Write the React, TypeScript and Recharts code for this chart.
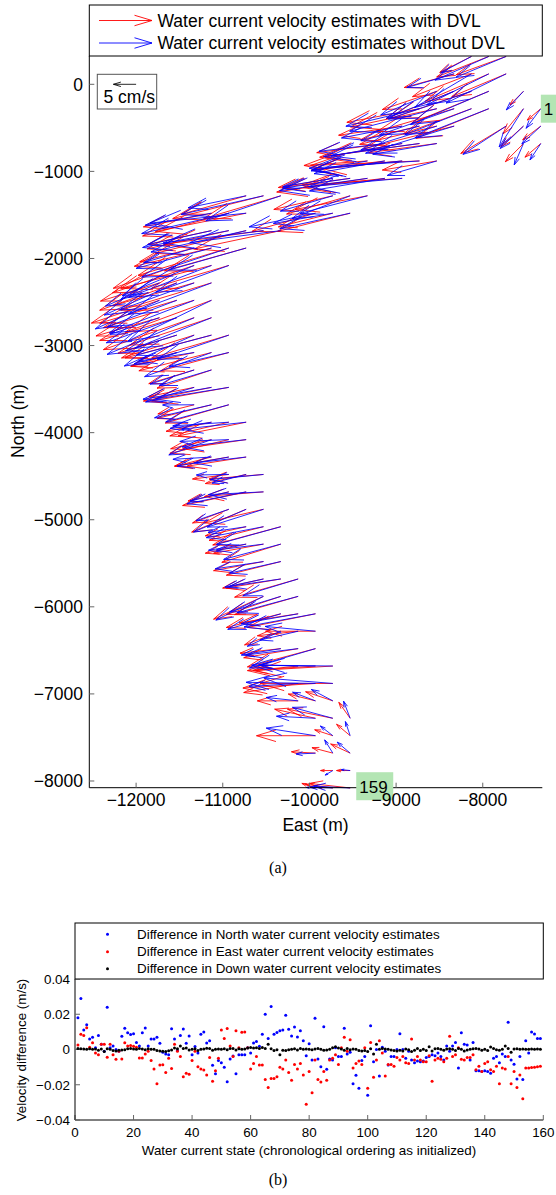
import React from "react";
import { ScatterChart, Scatter, XAxis, YAxis, ReferenceLine, ReferenceDot } from "recharts";

const SANS = "'Liberation Sans', Arial, Helvetica, sans-serif";
const SERIF = "'Liberation Serif', 'Times New Roman', serif";
const QUIVER_SCALE = 5236; // metres of map drawn per m/s of current

// (a) quiver: water current state positions (m) and velocity with DVL (m/s)
const stateEast = [
  -7330, -7530, -7530, -7730, -7730, -7930, -8130, -7930, -7930, -7930,
  -8130, -8130, -8130, -8330, -8330, -8330, -8530, -8530, -8730, -7330,
  -7530, -7730, -8330, -8530, -8730, -8930, -7330, -7530, -8530, -8730,
  -8930, -9130, -8530, -8730, -8930, -9130, -9330, -8930, -9130, -9330,
  -9530, -9730, -9330, -9530, -9730, -10330, -10530, -10730, -9530, -9730,
  -9930, -10730, -10930, -11130, -10330, -10530, -10730, -10930, -11130, -10730,
  -10930, -11130, -11330, -10930, -11130, -11330, -11530, -11130, -11330, -11530,
  -11730, -11130, -11330, -11530, -11730, -11130, -11330, -11530, -11730, -10930,
  -11130, -11330, -11530, -10930, -11130, -11330, -11530, -11130, -11330, -10930,
  -11130, -11330, -10930, -11130, -11330, -10730, -10930, -11130, -10730, -10930,
  -11130, -10730, -10930, -11130, -10530, -10730, -10930, -10530, -10730, -10930,
  -10530, -10730, -10930, -10330, -10530, -10730, -10330, -10530, -10730, -10330,
  -10530, -10130, -10330, -10530, -10130, -10330, -10530, -9930, -10130, -10330,
  -9930, -10130, -10330, -9930, -10130, -10330, -9730, -9930, -10130, -9730,
  -9930, -10130, -9730, -9930, -10130, -9530, -9730, -9930, -9530, -9730,
  -9930, -9530, -9730, -9930, -9530, -9730, -9930, -9730, -9530,
];
const stateNorth = [
  -280, -280, -80, 120, 320, 320, 320, 120, -80, -280,
  120, -80, -280, 120, -80, -280, -80, -280, -280, -480,
  -480, -480, -480, -480, -480, -480, -680, -680, -680, -680,
  -680, -680, -880, -880, -880, -880, -880, -1080, -1080, -1080,
  -1080, -1080, -1280, -1280, -1280, -1280, -1280, -1280, -1480, -1480,
  -1480, -1480, -1480, -1480, -1680, -1680, -1680, -1680, -1680, -1880,
  -1880, -1880, -1880, -2080, -2080, -2080, -2080, -2280, -2280, -2280,
  -2280, -2480, -2480, -2480, -2480, -2680, -2680, -2680, -2680, -2880,
  -2880, -2880, -2880, -3080, -3080, -3080, -3080, -3280, -3280, -3480,
  -3480, -3480, -3680, -3680, -3680, -3880, -3880, -3880, -4080, -4080,
  -4080, -4280, -4280, -4280, -4480, -4480, -4480, -4680, -4680, -4680,
  -4880, -4880, -4880, -5080, -5080, -5080, -5280, -5280, -5280, -5480,
  -5480, -5680, -5680, -5680, -5880, -5880, -5880, -6080, -6080, -6080,
  -6280, -6280, -6280, -6480, -6480, -6480, -6680, -6680, -6680, -6880,
  -6880, -6880, -7080, -7080, -7080, -7280, -7280, -7280, -7480, -7480,
  -7480, -7680, -7680, -7680, -7880, -7880, -8080, -8080, -8080,
];
const redU = [
  -0.03, -0.045, -0.03, -0.12, -0.11, -0.115, -0.07, -0.14, -0.17, -0.16,
  -0.13, -0.18, -0.15, -0.11, -0.15, -0.17, -0.12, -0.19, -0.16, -0.04,
  -0.05, -0.1, -0.2, -0.17, -0.13, -0.14, -0.035, -0.04, -0.15, -0.22,
  -0.17, -0.15, -0.12, -0.24, -0.2, -0.16, -0.14, -0.22, -0.18, -0.2,
  -0.15, -0.12, -0.16, -0.14, -0.13, -0.17, -0.2, -0.14, -0.16, -0.12,
  -0.14, -0.2, -0.19, -0.15, -0.19, -0.22, -0.2, -0.18, -0.14, -0.18,
  -0.2, -0.17, -0.12, -0.17, -0.2, -0.18, -0.14, -0.2, -0.18, -0.17,
  -0.13, -0.19, -0.2, -0.17, -0.15, -0.18, -0.2, -0.17, -0.14, -0.17,
  -0.19, -0.16, -0.13, -0.15, -0.16, -0.14, -0.1, -0.12, -0.1, -0.17,
  -0.15, -0.1, -0.14, -0.12, -0.08, -0.15, -0.13, -0.1, -0.14, -0.13,
  -0.09, -0.13, -0.12, -0.08, -0.12, -0.09, -0.08, -0.13, -0.14, -0.09,
  -0.13, -0.12, -0.08, -0.15, -0.12, -0.09, -0.13, -0.11, -0.09, -0.12,
  -0.11, -0.14, -0.12, -0.09, -0.14, -0.12, -0.11, -0.15, -0.13, -0.12,
  -0.11, -0.09, -0.08, -0.15, -0.12, -0.09, -0.17, -0.15, -0.1, -0.16,
  -0.16, -0.12, -0.06, -0.06, -0.09, -0.025, -0.1, -0.09, -0.03, -0.04,
  -0.13, -0.043, -0.046, -0.053, -0.03, -0.027, -0.03, -0.06, -0.09,
];
const redV = [
  -0.025, -0.055, -0.03, -0.05, -0.04, -0.045, -0.035, -0.06, -0.07, -0.065,
  -0.05, -0.06, -0.055, -0.03, -0.06, -0.05, -0.04, -0.04, -0.03, -0.03,
  -0.045, -0.06, -0.05, -0.04, -0.03, -0.02, -0.03, -0.04, -0.02, -0.03,
  -0.03, -0.02, -0.02, -0.01, -0.02, -0.02, -0.01, -0.015, -0.02, -0.03,
  -0.02, -0.02, -0.03, -0.04, -0.03, -0.05, -0.05, -0.04, -0.04, -0.03,
  -0.04, -0.04, -0.05, -0.03, -0.04, -0.03, -0.05, -0.04, -0.03, -0.05,
  -0.06, -0.04, -0.03, -0.05, -0.05, -0.06, -0.05, -0.06, -0.05, -0.06,
  -0.04, -0.07, -0.06, -0.05, -0.05, -0.06, -0.07, -0.05, -0.04, -0.05,
  -0.05, -0.05, -0.04, -0.04, -0.04, -0.03, -0.03, -0.04, -0.03, -0.03,
  -0.03, -0.02, -0.04, -0.03, -0.02, -0.03, -0.03, -0.02, -0.02, -0.03,
  -0.02, -0.02, -0.02, -0.02, -0.01, -0.02, -0.01, -0.01, -0.03, -0.02,
  -0.03, -0.05, -0.03, -0.04, -0.03, -0.02, -0.04, -0.02, -0.02, -0.03,
  -0.02, -0.04, -0.02, -0.02, -0.04, -0.04, -0.05, -0.03, -0.02, -0.03,
  0.0, -0.01, -0.03, -0.04, -0.02, -0.01, -0.01, -0.01, -0.01, 0.0,
  -0.01, -0.02, 0.02, 0.015, 0.0, 0.035, 0.02, 0.02, 0.025, 0.013,
  0.0, 0.02, 0.012, 0.003, 0.0, 0.0, 0.01, 0.008, 0.01,
];

// (b) difference (with DVL minus without DVL), m/s, for states 1..159
const diffNorth = [
  0.018, 0.029, 0.011, 0.014, 0.006, 0.007, 0.001, 0.008, 0.003, -0.001,
  0.024, 0.001, 0.002, 0.0, -0.001, 0.0075, 0.012, 0.0095, 0.0085, 0.009,
  0.004, 0.002, 0.0095, 0.0122, 0.002, 0.006, 0.006, 0.007, 0.0035, -0.0015,
  -0.0025, -0.003, 0.0118, 0.006, -0.0005, 0.008, 0.0117, 0.0035, 0.0077, -0.003,
  0.0017, -0.002, 0.0087, 0.01, 0.0037, 0.005, -0.009, -0.0137, -0.0063, -0.0075,
  -0.01, -0.0183, -0.0054, -0.0037, -0.0137, -0.003, -0.003, -0.003, 0.001, -0.002,
  0.0037, 0.0046, 0.0019, 0.0087, 0.02, 0.0063, 0.0244, 0.0087, 0.0096, 0.0106,
  0.011, 0.0194, 0.0115, 0.0077, 0.0127, 0.0071, 0.0106, 0.005, -0.0035, 0.0033,
  -0.006, 0.0177, -0.0054, -0.0098, 0.0129, -0.0112, -0.0054, -0.006, 0.001, -0.004,
  -0.004, 0.0121, -0.0025, -0.0015, -0.0195, -0.0146, -0.022, -0.0063, -0.004, -0.026,
  0.0135, -0.007, 0.0, -0.015, 0.0013, -0.001, -0.0088, -0.004, -0.004, 0.0,
  0.009, 0.0, -0.005, -0.001, -0.006, -0.0075, -0.0065, -0.007, -0.0065, -0.0045,
  -0.004, -0.003, -0.0035, -0.002, -0.004, -0.006, 0.002, -0.001, 0.002, 0.004,
  -0.0105, 0.0095, 0.003, 0.0025, -0.006, 0.004, -0.012, -0.012, -0.0125, -0.012,
  -0.0125, -0.0135, -0.005, -0.004, -0.0075, -0.0025, -0.004, 0.0155, -0.006, -0.0083,
  -0.0167, -0.004, -0.017, 0.005, -0.002, 0.01, 0.0088, 0.0062, 0.0062,
];
const diffEast = [
  0.0025, 0.0087, 0.008, 0.0123, 0.0013, 0.0038, -0.002, -0.003, 0.003, 0.003,
  -0.0044, 0.003, -0.003, -0.0056, -0.001, -0.0054, 0.0038, 0.002, 0.0022, 0.0019,
  0.0013, -0.0048, -0.0048, -0.0025, -0.001, -0.0063, -0.011, -0.0195, -0.0088, -0.0087,
  -0.013, -0.005, -0.0108, 0.003, -0.001, -0.004, -0.0155, -0.0135, -0.014, -0.0063,
  -0.001, -0.0098, -0.011, -0.0117, -0.0145, -0.0045, -0.018, -0.012, -0.005, 0.011,
  0.0062, 0.0119, 0.002, -0.004, 0.0106, 0.001, 0.0098, 0.01, 0.001, -0.011,
  -0.008, -0.004, -0.0088, -0.0088, -0.017, -0.0215, -0.0165, -0.0165, -0.0155, -0.01,
  -0.011, -0.006, -0.013, -0.0175, -0.0085, -0.011, -0.008, -0.0145, -0.031, -0.0125,
  -0.0245, -0.006, -0.017, -0.0185, -0.0125, -0.0175, -0.006, -0.005, -0.003, -0.0085,
  0.001, 0.007, -0.001, 0.0055, -0.0105, -0.008, -0.0065, -0.0085, 0.001, -0.022,
  0.004, -0.0157, -0.006, 0.005, -0.002, -0.015, -0.0085, -0.0085, -0.0095, -0.0045,
  -0.006, -0.004, -0.0075, -0.008, 0.006, -0.006, -0.004, -0.006, -0.007, -0.007,
  -0.0035, -0.018, -0.006, -0.005, -0.0055, -0.007, -0.005, 0.0075, -0.004, -0.003,
  0.001, -0.0055, -0.006, -0.0045, -0.0045, -0.003, -0.0115, -0.0095, -0.0125, -0.008,
  -0.007, -0.0115, -0.0125, -0.0095, -0.0195, -0.0105, -0.011, -0.004, -0.0195, -0.0125,
  -0.0215, -0.0145, -0.028, -0.0105, -0.0105, -0.0102, -0.01, -0.0098, -0.0095,
];
const diffDown = [
  0.0005, 0.0004, 0.0003, 0.0002, 0.0004, 0.0002, 0.0003, -0.0004, 0.0003, -0.0012,
  0.0004, 0.0002, -0.0006, -0.0008, -0.0004, -0.0003, -0.0001, 0.0004, 0.0005, 0.0003,
  0.0002, 0.0006, 0.0003, -0.0002, 0.0004, 0.0002, 0.0001, -0.0006, -0.0008, -0.001,
  -0.0012, -0.0007, -0.0003, 0.0008, 0.0004, 0.002, 0.0006, 0.0008, -0.0003, 0.0002,
  0.0004, -0.0006, 0.0002, 0.0003, 0.0007, 0.0005, -0.0004, 0.0001, 0.0003, 0.0002,
  0.0004, -0.0002, 0.0006, 0.0005, -0.0003, 0.0004, 0.0002, 0.0003, 0.0009, 0.0012,
  0.0008, 0.001, 0.0005, 0.0012, 0.0006, 0.003, 0.0004, -0.0006, -0.0002, -0.003,
  -0.0004, -0.0006, -0.0002, 0.0002, 0.0004, -0.0003, 0.0005, 0.0002, 0.0003, 0.0001,
  -0.0002, 0.0003, 0.0005, 0.0002, -0.0004, -0.0003, 0.0002, 0.001, 0.0015, 0.0008,
  0.0003, -0.0004, 0.0006, -0.0002, 0.0003, 0.0001, -0.0005, -0.0008, -0.0006, -0.0012,
  0.0004, -0.0025, 0.003, 0.0002, 0.0005, 0.0003, 0.0002, -0.0003, -0.0006, -0.0009,
  -0.0004, -0.0008, 0.0003, -0.0002, -0.0012, -0.0004, 0.0006, -0.0006, 0.0002, -0.0005,
  0.0015, -0.0008, 0.0004, 0.0006, 0.0002, -0.0004, 0.0003, 0.0004, 0.0002, -0.0006,
  0.0005, 0.0002, -0.0008, -0.0003, 0.0002, 0.0004, 0.0005, 0.0003, -0.0004, 0.0002,
  -0.0006, 0.0014, 0.0005, -0.0002, -0.0004, 0.0002, 0.002, 0.0006, -0.0015, 0.0003,
  0.0004, 0.0002, 0.0003, 0.0001, 0.0002, 0.0003, 0.0002, 0.0003, 0.0002,
];

const mapXTicks = [-12000, -11000, -10000, -9000, -8000];
const mapYTicks = [-8000, -7000, -6000, -5000, -4000, -3000, -2000, -1000, 0];
const diffXTicks = [0, 20, 40, 60, 80, 100, 120, 140, 160];
const diffYTicks = [-0.04, -0.02, 0, 0.02, 0.04];

// reference arrow (5 cm/s) and state labels
const refArrow = { east: -12000, north: 0, u: -0.05, v: 0 };
const stateLabels = [
  { text: "1", east: -7330, north: -280, w: 17 },
  { text: "159", east: -9460, north: -8060, w: 37 },
];

const minus = (v: number) => (v < 0 ? "\u2212" + String(Math.abs(v)) : String(v));

function arrowPath(x1: number, y1: number, x2: number, y2: number) {
  const dx = x2 - x1;
  const dy = y2 - y1;
  const a = 0.33;
  const b = 0.3;
  const hx1 = x2 - a * (dx + b * dy);
  const hy1 = y2 - a * (dy - b * dx);
  const hx2 = x2 - a * (dx - b * dy);
  const hy2 = y2 - a * (dy + b * dx);
  return `M${x1},${y1}L${x2},${y2}M${hx1},${hy1}L${x2},${y2}L${hx2},${hy2}`;
}

const arrowShape = (color: string) => (p: any) => {
  const { x1, y1, x2, y2 } = p;
  if (![x1, y1, x2, y2].every((n) => Number.isFinite(n))) return <g />;
  return <path d={arrowPath(x1, y1, x2, y2)} stroke={color} strokeWidth={0.85} fill="none" />;
};
const redArrow = arrowShape("#ff0000");
const blueArrow = arrowShape("#0000ff");
const blackArrow = arrowShape("#000000");

const dot = (color: string) => (p: any) => <circle cx={p.cx} cy={p.cy} r={1.5} fill={color} />;

export default function App() {
  const arrows = stateEast.map((e, k) => ({
    e,
    n: stateNorth[k],
    ru: redU[k],
    rv: redV[k],
    bu: redU[k] - diffEast[k],
    bv: redV[k] - diffNorth[k],
  }));
  const tails = arrows.map((a) => ({ x: a.e, y: a.n }));
  const northPts = diffNorth.map((v, k) => ({ x: k + 1, y: v }));
  const eastPts = diffEast.map((v, k) => ({ x: k + 1, y: v }));
  const downPts = diffDown.map((v, k) => ({ x: k + 1, y: v }));

  const tickStyle = { fontFamily: SANS, fontSize: 17.5, fill: "#000" };
  const smallTick = { fontFamily: SANS, fontSize: 13.4, fill: "#000" };

  return (
    <div style={{ position: "absolute", left: 0, top: 0, width: 556, height: 1195, background: "#fff", overflow: "hidden" }}>
      {/* (a) quiver map */}
      <div style={{ position: "absolute", left: 0, top: 0 }}>
        <ScatterChart width={556} height={850} margin={{ top: 56, right: 13.7, bottom: 32.3, left: 9.3 }}>
          <XAxis type="number" dataKey="x" domain={[-12540, -7313]} allowDataOverflow ticks={mapXTicks}
            tickFormatter={minus} tick={tickStyle} tickSize={-5} tickMargin={10.5} height={30}
            stroke="#000" tickLine={{ stroke: "#666" }} />
          <XAxis xAxisId="t" orientation="top" type="number" domain={[-12540, -7313]} allowDataOverflow ticks={mapXTicks}
            tick={false} tickSize={-5} height={0} stroke="#000" tickLine={{ stroke: "#666" }} />
          <YAxis type="number" dataKey="y" domain={[-8077, 325]} allowDataOverflow ticks={mapYTicks}
            tickFormatter={minus} tick={tickStyle} tickSize={-5} tickMargin={11.3} width={80}
            stroke="#000" tickLine={{ stroke: "#666" }} />
          <YAxis yAxisId="r" orientation="right" type="number" domain={[-8077, 325]} allowDataOverflow ticks={mapYTicks}
            tick={false} tickSize={-5} width={0} stroke="#000" tickLine={{ stroke: "#666" }} />
          <Scatter data={tails} isAnimationActive={false} shape={() => <g />} />
          {arrows.map((a, k) => (
            <ReferenceLine key={"r" + k} ifOverflow="visible" shape={redArrow}
              segment={[{ x: a.e, y: a.n }, { x: a.e + a.ru * QUIVER_SCALE, y: a.n + a.rv * QUIVER_SCALE }]} />
          ))}
          {arrows.map((a, k) => (
            <ReferenceLine key={"b" + k} ifOverflow="visible" shape={blueArrow}
              segment={[{ x: a.e, y: a.n }, { x: a.e + a.bu * QUIVER_SCALE, y: a.n + a.bv * QUIVER_SCALE }]} />
          ))}
          <ReferenceLine ifOverflow="visible" shape={blackArrow}
            segment={[{ x: refArrow.east, y: refArrow.north },
              { x: refArrow.east + refArrow.u * QUIVER_SCALE, y: refArrow.north + refArrow.v * QUIVER_SCALE }]} />
          {stateLabels.map((l) => (
            <ReferenceDot key={l.text} x={l.east} y={l.north} ifOverflow="visible"
              shape={(p: any) => (
                <g>
                  <rect x={p.cx} y={p.cy - 14} width={l.w} height={28} fill="#b3e5b3" />
                  <text x={p.cx + 3} y={p.cy + 6.5} fontFamily={SANS} fontSize={17} fill="#000">{l.text}</text>
                </g>
              )} />
          ))}
        </ScatterChart>
      </div>

      {/* (b) velocity differences */}
      <div style={{ position: "absolute", left: 0, top: 900 }}>
        <ScatterChart width={556} height={250} margin={{ top: 79, right: 12.7, bottom: 10, left: 0 }}>
          <XAxis type="number" dataKey="x" domain={[0, 160]} allowDataOverflow ticks={diffXTicks}
            tick={smallTick} tickSize={-5} tickMargin={12.5} height={20} stroke="#000" tickLine={{ stroke: "#666" }} />
          <XAxis xAxisId="t" orientation="top" type="number" domain={[0, 160]} allowDataOverflow ticks={diffXTicks}
            tick={false} tickSize={-5} height={0} stroke="#000" tickLine={{ stroke: "#666" }} />
          <YAxis type="number" dataKey="y" domain={[-0.04, 0.04]} allowDataOverflow ticks={diffYTicks}
            tickFormatter={minus} tick={smallTick} tickSize={-5} tickMargin={10} width={75}
            stroke="#000" tickLine={{ stroke: "#666" }} />
          <YAxis yAxisId="r" orientation="right" type="number" domain={[-0.04, 0.04]} allowDataOverflow ticks={diffYTicks}
            tick={false} tickSize={-5} width={0} stroke="#000" tickLine={{ stroke: "#666" }} />
          <Scatter data={northPts} fill="#0000ff" isAnimationActive={false} shape={dot("#0000ff")} />
          <Scatter data={eastPts} fill="#ff0000" isAnimationActive={false} shape={dot("#ff0000")} />
          <Scatter data={downPts} fill="#000000" isAnimationActive={false} shape={dot("#000000")} />
        </ScatterChart>
      </div>

      {/* legends, titles, captions */}
      <svg width={556} height={1195} style={{ position: "absolute", left: 0, top: 0, pointerEvents: "none" }}>
        <rect x={89.3} y={5} width={453} height={51} fill="#fff" stroke="#000" strokeWidth={1} />
        <path d={arrowPath(99, 20.5, 152, 20.5)} stroke="#ff0000" strokeWidth={0.9} fill="none" />
        <text x={157.5} y={26.8} fontFamily={SANS} fontSize={17.5}>Water current velocity estimates with DVL</text>
        <path d={arrowPath(99, 43, 152, 43)} stroke="#0000ff" strokeWidth={0.9} fill="none" />
        <text x={157.5} y={49.3} fontFamily={SANS} fontSize={17.5}>Water current velocity estimates without DVL</text>

        <rect x={97.3} y={74.3} width={59.4} height={34.7} fill="none" stroke="#555" strokeWidth={1} />
        <text x={103.5} y={103.3} fontFamily={SANS} fontSize={17.5}>5 cm/s</text>

        <text x={315.5} y={830.5} textAnchor="middle" fontFamily={SANS} fontSize={17.5}>East (m)</text>
        <text transform="translate(23.5,421) rotate(-90)" textAnchor="middle" fontFamily={SANS} fontSize={17.5}>North (m)</text>
        <text x={278} y={873} textAnchor="middle" fontFamily={SERIF} fontSize={16}>(a)</text>

        <rect x={75} y={923} width={468.3} height={56} fill="#fff" stroke="#000" strokeWidth={1} />
        <circle cx={107.5} cy={934.3} r={1.5} fill="#0000ff" />
        <text x={137} y={939} fontFamily={SANS} fontSize={13.4}>Difference in North water current velocity estimates</text>
        <circle cx={107.5} cy={951.7} r={1.5} fill="#ff0000" />
        <text x={137} y={956.4} fontFamily={SANS} fontSize={13.4}>Difference in East water current velocity estimates</text>
        <circle cx={107.5} cy={968.7} r={1.5} fill="#000000" />
        <text x={137} y={973.4} fontFamily={SANS} fontSize={13.4}>Difference in Down water current velocity estimates</text>

        <text x={309} y={1154.5} textAnchor="middle" fontFamily={SANS} fontSize={13.4}>Water current state (chronological ordering as initialized)</text>
        <text transform="translate(25.5,1050) rotate(-90)" textAnchor="middle" fontFamily={SANS} fontSize={13.4}>Velocity difference (m/s)</text>
        <text x={278} y={1185} textAnchor="middle" fontFamily={SERIF} fontSize={16}>(b)</text>
      </svg>
    </div>
  );
}
